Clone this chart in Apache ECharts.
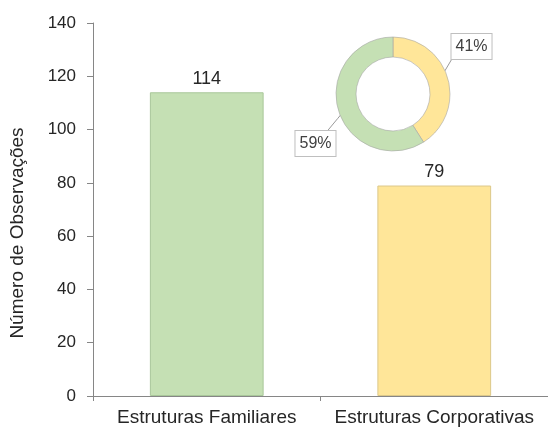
<!DOCTYPE html>
<html>
<head>
<meta charset="utf-8">
<script src="https://cdn.jsdelivr.net/npm/echarts@6/dist/echarts.min.js"></script>
<style>html,body{margin:0;padding:0;background:#fff}#c{width:548px;height:427px}</style>
</head>
<body>
<div id="c"></div>
<script>
const categories = ['Estruturas Familiares', 'Estruturas Corporativas'];
const observations = [114, 79];
const shareLabels = ['Estruturas Corporativas', 'Estruturas Familiares'];
const shareValues = [41, 59];
const yTicks = [0, 20, 40, 60, 80, 100, 120, 140];
const yAxisTitle = 'Número de Observações';

const FONT = '"Liberation Sans", Arial, sans-serif';
const fills = ['#C5E0B4', '#FFE699'];
const borders = ['#A9C79A', '#DCC88A'];

const pieCenter = [393, 94];
const pieRadius = [37, 57];
// label offsets (relative shifts of the pie callouts) and where the leader line meets the box
const calloutShift = [[-13, -30], [14, 32]];
const calloutAnchor = [[0.02, 1], [0.8, 0]];

const chart = echarts.init(document.getElementById('c'), null, {renderer: 'canvas'});
chart.setOption({
  animation: false,
  backgroundColor: '#fff',
  textStyle: {fontFamily: FONT},
  grid: {left: 93, right: 0, top: 23, bottom: 31, containLabel: false},
  xAxis: {
    type: 'category',
    data: categories,
    axisLine: {lineStyle: {color: '#868686', width: 1}},
    axisTick: {show: true, length: 5, lineStyle: {color: '#868686'}},
    axisLabel: {color: '#262626', fontSize: 19, fontFamily: FONT, margin: 12, interval: 0}
  },
  yAxis: {
    type: 'value',
    min: yTicks[0],
    max: yTicks[yTicks.length - 1],
    interval: yTicks[1] - yTicks[0],
    axisLine: {show: true, lineStyle: {color: '#868686', width: 1}},
    axisTick: {show: true, length: 6, lineStyle: {color: '#868686'}},
    splitLine: {show: false},
    axisLabel: {color: '#262626', fontSize: 17, fontFamily: FONT, margin: 17}
  },
  graphic: [{
    type: 'text',
    x: 18, y: 233,
    rotation: Math.PI / 2,
    style: {text: yAxisTitle, fill: '#262626', font: '19px ' + FONT, align: 'center', verticalAlign: 'middle'}
  }],
  series: [{
    type: 'bar',
    barWidth: '50%',
    data: observations.map((v, i) => ({
      value: v,
      itemStyle: {color: fills[i], borderColor: borders[i], borderWidth: 1}
    })),
    label: {show: true, position: 'top', distance: 4, color: '#262626', fontSize: 18, fontFamily: FONT}
  }, {
    type: 'pie',
    center: pieCenter,
    radius: pieRadius,
    startAngle: 90,
    clockwise: true,
    avoidLabelOverlap: false,
    z: 5,
    data: shareLabels.map((n, i) => ({
      name: n,
      value: shareValues[i],
      itemStyle: {color: fills[1 - i], borderColor: '#A6A6A6', borderWidth: 0.6}
    })),
    label: {
      show: true,
      position: 'outside',
      formatter: '{c}%',
      color: '#404040',
      fontSize: 16,
      fontFamily: FONT,
      backgroundColor: '#fff',
      borderColor: '#BFBFBF',
      borderWidth: 1,
      padding: [5, 4, 4, 4]
    },
    labelLine: {show: true, showAbove: true, length: 6, length2: 6, lineStyle: {color: '#9A9A9A', width: 1}},
    labelLayout: function (p) {
      const s = calloutShift[p.dataIndex];
      const a = calloutAnchor[p.dataIndex];
      const r = p.labelRect;
      const res = {dx: s[0], dy: s[1]};
      const pts = p.labelLinePoints;
      if (pts && pts.length >= 1) {
        const p0 = pts[0];
        const vx = p0[0] - pieCenter[0], vy = p0[1] - pieCenter[1];
        const len = Math.sqrt(vx * vx + vy * vy) || 1;
        const midR = (pieRadius[0] + pieRadius[1]) / 2 + 1;
        const start = [pieCenter[0] + vx / len * midR, pieCenter[1] + vy / len * midR];
        const end = [r.x + s[0] + r.width * a[0], r.y + s[1] + r.height * a[1]];
        res.labelLinePoints = [start, [(start[0] + end[0]) / 2, (start[1] + end[1]) / 2], end];
      }
      return res;
    },
    emphasis: {disabled: true}
  }]
});
</script>
</body>
</html>
